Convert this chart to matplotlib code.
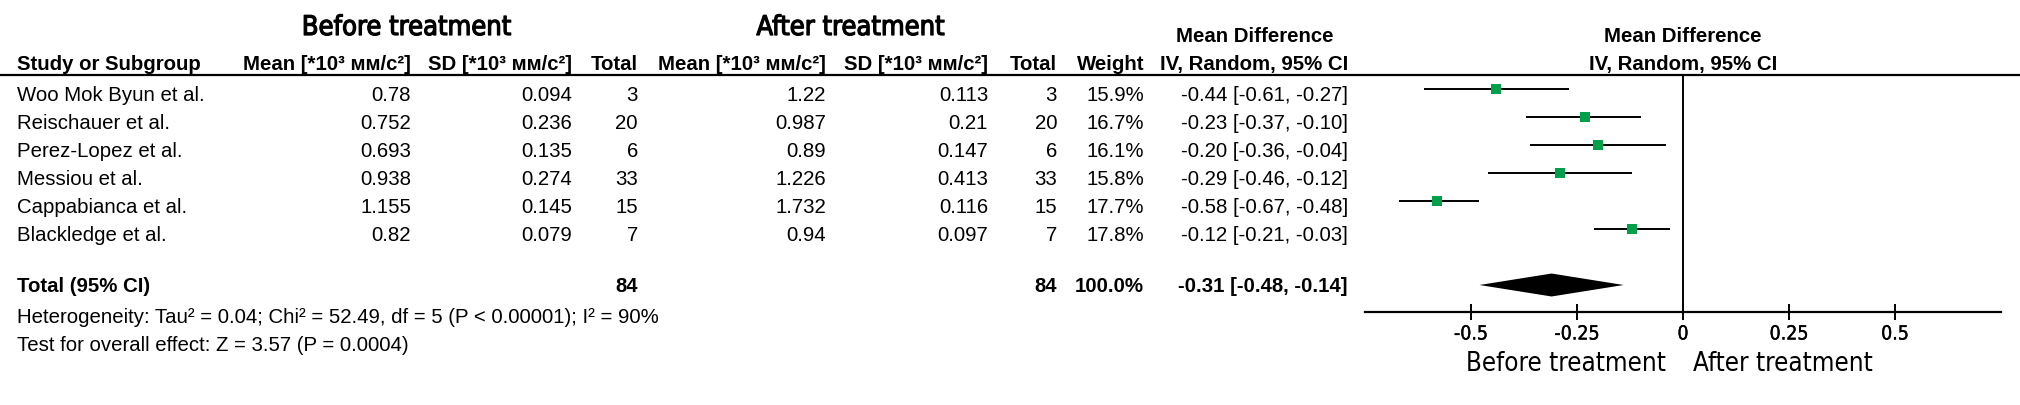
import matplotlib
matplotlib.use("Agg")
import numpy as np
import matplotlib.pyplot as plt
import matplotlib.patheffects as pe


studies = ["Woo Mok Byun et al.", "Reischauer et al.", "Perez-Lopez et al.",
           "Messiou et al.", "Cappabianca et al.", "Blackledge et al."]
mean_before = [0.78, 0.752, 0.693, 0.938, 1.155, 0.82]
sd_before = [0.094, 0.236, 0.135, 0.274, 0.145, 0.079]
n_before = [3, 20, 6, 33, 15, 7]
mean_after = [1.22, 0.987, 0.89, 1.226, 1.732, 0.94]
sd_after = [0.113, 0.21, 0.147, 0.413, 0.116, 0.097]
n_after = [3, 20, 6, 33, 15, 7]
weights = [15.9, 16.7, 16.1, 15.8, 17.7, 17.8]
md = [-0.44, -0.23, -0.20, -0.29, -0.58, -0.12]
ci_lo = [-0.61, -0.37, -0.36, -0.46, -0.67, -0.21]
ci_hi = [-0.27, -0.10, -0.04, -0.12, -0.48, -0.03]
total_md = -0.31
total_lo = -0.48
total_hi = -0.14
x_ticks = [-0.5, -0.25, 0, 0.25, 0.5]
x_tick_labels = ["-0.5", "-0.25", "0", "0.25", "0.5"]

unit = "[*10\u00b3 \u043c\u043c/\u0441\u00b2]"
heterogeneity = "Heterogeneity: Tau\u00b2 = 0.04; Chi\u00b2 = 52.49, df = 5 (P < 0.00001); I\u00b2 = 90%"
overall = "Test for overall effect: Z = 3.57 (P = 0.0004)"

W, H = 2020, 405
fig = plt.figure(figsize=(W / 100, H / 100), dpi=100)

# overlay in pixel coordinates for the table part
ax0 = fig.add_axes([0, 0, 1, 1])
ax0.set_xlim(0, W)
ax0.set_ylim(H, 0)
ax0.axis("off")

tfont = dict(family=["Liberation Sans", "DejaVu Sans"], fontsize=14.7, color="black")
cfont = dict(family="DejaVu Sans", stretch="condensed", color="black")
heavy = [pe.withStroke(linewidth=0.9, foreground="black")]

# group titles
ax0.text(407, 35, "Before treatment", ha="center", va="baseline", fontsize=19.5,
         path_effects=heavy, **cfont)
ax0.text(851, 35, "After treatment", ha="center", va="baseline", fontsize=19.5,
         path_effects=heavy, **cfont)

# column headers
hb = 70
ax0.text(17, hb, "Study or Subgroup", ha="left", va="baseline", weight="bold", **tfont)
cols = [411, 572, 638, 826, 988, 1057, 1144, 1348]
heads = ["Mean " + unit, "SD " + unit, "Total", "Mean " + unit, "SD " + unit,
         "Total", "Weight", "IV, Random, 95% CI"]
for x, h in zip(cols, heads):
    ax0.text(x, hb, h, ha="right", va="baseline", weight="bold", **tfont)
ax0.text(1255, 41.7, "Mean Difference", ha="center", va="baseline", weight="bold", **tfont)
ax0.text(1683, 41.7, "Mean Difference", ha="center", va="baseline", weight="bold", **tfont)
ax0.text(1683, hb, "IV, Random, 95% CI", ha="center", va="baseline", weight="bold", **tfont)

ax0.axhline(75, color="black", lw=1.6)

# study rows
for i, name in enumerate(studies):
    yb = 100.7 + 28 * i
    vals = [str(mean_before[i]), str(sd_before[i]), str(n_before[i]),
            str(mean_after[i]), str(sd_after[i]), str(n_after[i]),
            "%.1f%%" % weights[i],
            "%.2f [%.2f, %.2f]" % (md[i], ci_lo[i], ci_hi[i])]
    ax0.text(17, yb, name, ha="left", va="baseline", **tfont)
    for x, v in zip(cols, vals):
        ax0.text(x, yb, v, ha="right", va="baseline", **tfont)

# total row
yt = 292
ax0.text(17, yt, "Total (95% CI)", ha="left", va="baseline", weight="bold", **tfont)
ax0.text(cols[2], yt, str(sum(n_before)), ha="right", va="baseline", weight="bold", **tfont)
ax0.text(cols[5], yt, str(sum(n_after)), ha="right", va="baseline", weight="bold", **tfont)
ax0.text(cols[6], yt, "%.1f%%" % sum(weights), ha="right", va="baseline", weight="bold", **tfont)
ax0.text(cols[7], yt, "%.2f [%.2f, %.2f]" % (total_md, total_lo, total_hi),
         ha="right", va="baseline", weight="bold", **tfont)
ax0.text(17, 322.7, heterogeneity, ha="left", va="baseline", **tfont)
ax0.text(17, 351, overall, ha="left", va="baseline", **tfont)

# forest plot
ax = fig.add_axes([1365 / W, 1 - 312 / H, 636 / W, 237 / H])
ax.set_xlim(-0.75, 0.75)
ax.set_ylim(7.964, -0.5)
ax.patch.set_alpha(0)
for s in ["top", "left", "right"]:
    ax.spines[s].set_visible(False)
ax.spines["bottom"].set_linewidth(1.6)
ax.set_yticks([])
ax.axvline(0, color="black", lw=1.4)

rows = np.arange(len(studies))
for i in rows:
    ax.plot([ci_lo[i], ci_hi[i]], [i, i], color="black", lw=1.4, solid_capstyle="butt")
    ax.plot(md[i], i, marker="s", color="#00a04b", markersize=6.8 * np.sqrt(weights[i] / 16.7),
            markeredgewidth=0, zorder=3)

dy = 0.41
ax.fill([total_lo, total_md, total_hi, total_md], [7, 7 - dy, 7, 7 + dy],
        color="black", lw=0)

ax.set_xticks(x_ticks)
ax.set_xticklabels(x_tick_labels)
ax.tick_params(axis="x", direction="inout", length=12, width=1.4, pad=3)
for lab in ax.get_xticklabels():
    lab.set_fontfamily("DejaVu Sans")
    lab.set_fontstretch("condensed")
    lab.set_fontsize(14)
    lab.set_path_effects([pe.withStroke(linewidth=0.25, foreground="black")])

ax0.text(1666, 371, "Before treatment", ha="right", va="baseline", fontsize=18.6, **cfont)
ax0.text(1693, 371, "After treatment", ha="left", va="baseline", fontsize=18.6, **cfont)

fig.savefig("out.png", dpi=100)
